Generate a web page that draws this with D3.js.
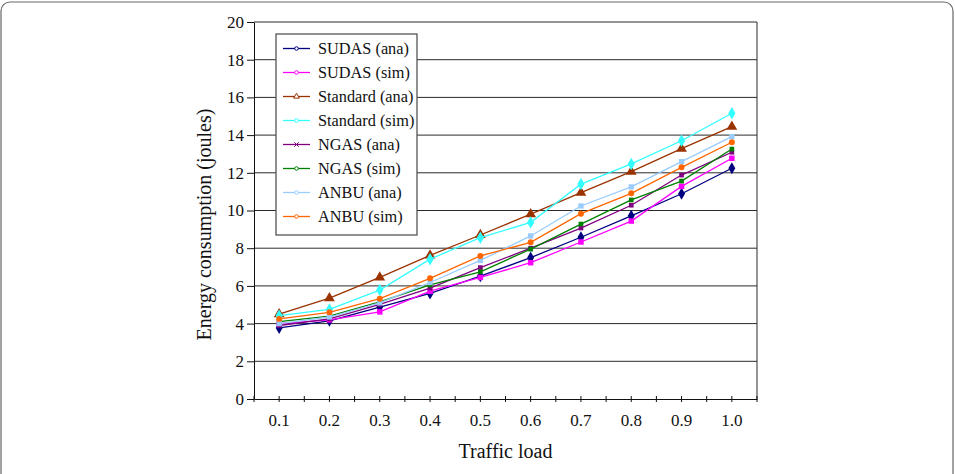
<!DOCTYPE html>
<html>
<head>
<meta charset="utf-8">
<script src="https://cdn.jsdelivr.net/npm/d3@7"></script>
<style>
  body { margin: 0; background: #fff; }
  svg text { font-family: "Liberation Serif", "Times New Roman", "DejaVu Serif", serif !important; }
</style>
</head>
<body>
<div id="chart"></div>
<script>
// values
const categories = ["0.1", "0.2", "0.3", "0.4", "0.5", "0.6", "0.7", "0.8", "0.9", "1.0"];
const yTicks = [0, 2, 4, 6, 8, 10, 12, 14, 16, 18, 20];

const sudasAna    = [3.77, 4.15, 4.88, 5.60, 6.52, 7.50, 8.58, 9.72, 10.89, 12.24];
const sudasSim    = [4.00, 4.20, 4.62, 5.72, 6.45, 7.23, 8.33, 9.44, 11.28, 12.77];
const standardAna = [4.50, 5.35, 6.45, 7.62, 8.70, 9.81, 10.95, 12.06, 13.28, 14.45];
const standardSim = [4.42, 4.75, 5.78, 7.42, 8.56, 9.37, 11.40, 12.47, 13.70, 15.16];
const ngasAna     = [3.90, 4.25, 5.02, 5.88, 6.97, 8.00, 9.07, 10.28, 11.88, 13.09];
const ngasSim     = [4.10, 4.40, 5.15, 6.05, 6.75, 7.95, 9.28, 10.56, 11.56, 13.26];
const anbuAna     = [4.00, 4.35, 5.10, 6.18, 7.35, 8.65, 10.24, 11.25, 12.59, 13.92];
const anbuSim     = [4.25, 4.60, 5.32, 6.40, 7.59, 8.31, 9.83, 10.91, 12.29, 13.62];

const seriesNames = ["SUDAS (ana)", "SUDAS (sim)", "Standard (ana)", "Standard (sim)",
                     "NGAS (ana)", "NGAS (sim)", "ANBU (ana)", "ANBU (sim)"];
const seriesValues = [sudasAna, sudasSim, standardAna, standardSim, ngasAna, ngasSim, anbuAna, anbuSim];

// styles for each series
const colors = ["#000080", "#ff00ff", "#993300", "#33ffff", "#800080", "#008000", "#99ccff", "#ff6600"];
const symbols = [d3.symbolDiamond, d3.symbolSquare, d3.symbolTriangle, d3.symbolDiamond,
                 d3.symbolSquare, d3.symbolSquare, d3.symbolSquare, d3.symbolCircle];
const symbolSizes = [42, 30, 50, 45, 22, 22, 28, 28];

const series = seriesNames.map((name, i) => ({
    name: name,
    color: colors[i],
    symbol: symbols[i],
    size: symbolSizes[i],
    values: seriesValues[i].map((v, j) => ({ cat: categories[j], v: v }))
}));

const width = 955,
      height = 474,
      margin = ({ top: 22, right: 198, bottom: 75, left: 254 });

let svg = d3.select("#chart")
    .append("svg")
    .attr("width", width)
    .attr("height", height);

// outer rounded frame
svg.append("rect")
    .attr("x", 1).attr("y", 2)
    .attr("width", 952).attr("height", 600)
    .attr("rx", 9)
    .attr("fill", "none")
    .attr("stroke", "#666")
    .attr("stroke-width", 1.2);

let x = d3.scaleBand()
    .domain(categories)
    .range([margin.left, width - margin.right])
    .padding(0);

let y = d3.scaleLinear()
    .domain([0, 20])
    .range([height - margin.bottom, margin.top]);

// gridlines
svg.append("g")
    .selectAll("line")
    .data(yTicks.filter(t => t > 0))
    .join("line")
    .attr("x1", margin.left)
    .attr("x2", width - margin.right)
    .attr("y1", d => y(d))
    .attr("y2", d => y(d))
    .attr("stroke", "#2a2a2a")
    .attr("stroke-width", 1);

// right border of the plot
svg.append("line")
    .attr("x1", width - margin.right).attr("x2", width - margin.right)
    .attr("y1", y(20)).attr("y2", y(0))
    .attr("stroke", "#2a2a2a");

// y axis
let yAxis = svg.append("g")
    .attr("transform", `translate(${margin.left},0)`)
    .call(d3.axisLeft(y).tickValues(yTicks).tickSize(7).tickPadding(3).tickSizeOuter(0));
yAxis.selectAll("text").attr("font-size", 17).attr("fill", "#111");
yAxis.select(".domain").attr("stroke", "#111");
yAxis.selectAll(".tick line").attr("stroke", "#111");

// x axis: labels at centres, small ticks every half band
let xAxis = svg.append("g")
    .attr("transform", `translate(0,${y(0)})`)
    .call(d3.axisBottom(x).tickSize(0).tickPadding(15).tickSizeOuter(0));
xAxis.selectAll("text").attr("font-size", 17).attr("fill", "#111");
xAxis.select(".domain").attr("stroke", "#111");

const halfTicks = d3.range(categories.length * 2 + 1).map(i => margin.left + i * x.bandwidth() / 2);
xAxis.selectAll(".htick")
    .data(halfTicks)
    .join("line")
    .attr("class", "htick")
    .attr("x1", d => d).attr("x2", d => d)
    .attr("y1", -3).attr("y2", 3)
    .attr("stroke", "#111");

// axis titles
svg.append("text")
    .attr("x", (margin.left + width - margin.right) / 2)
    .attr("y", 458)
    .attr("text-anchor", "middle")
    .attr("font-size", 20)
    .attr("fill", "#111")
    .text("Traffic load");

svg.append("text")
    .attr("transform", `translate(211,${(y(0) + y(20)) / 2 + 14}) rotate(-90)`)
    .attr("text-anchor", "middle")
    .attr("font-size", 20)
    .attr("fill", "#111")
    .text("Energy consumption (joules)");

// lines
let line = d3.line()
    .x(d => x(d.cat) + x.bandwidth() / 2)
    .y(d => y(d.v));

let g = svg.selectAll(".series")
    .data(series)
    .join("g")
    .attr("class", "series");

g.append("path")
    .attr("d", d => line(d.values))
    .attr("fill", "none")
    .attr("stroke", d => d.color)
    .attr("stroke-width", 1.3);

g.selectAll(".pt")
    .data(d => d.values.map(p => ({ p: p, s: d })))
    .join("path")
    .attr("class", "pt")
    .attr("transform", d => `translate(${x(d.p.cat) + x.bandwidth() / 2},${y(d.p.v)})`)
    .attr("d", d => d3.symbol(d.s.symbol, d.s.size)())
    .attr("fill", d => d.s.color);

// legend
const lg = svg.append("g").attr("transform", "translate(276,34)");
lg.append("rect")
    .attr("width", 141).attr("height", 201)
    .attr("fill", "#fff")
    .attr("stroke", "#555")
    .attr("stroke-width", 1.3);

let item = lg.selectAll(".item")
    .data(series)
    .join("g")
    .attr("class", "item")
    .attr("transform", (d, i) => `translate(0,${14.5 + i * 24})`);

item.append("line")
    .attr("x1", 7).attr("x2", 34)
    .attr("stroke", d => d.color)
    .attr("stroke-width", 1.3);

item.append("path")
    .attr("transform", "translate(20.5,0)")
    .attr("d", (d, i) => i === 2 ? d3.symbol(d3.symbolTriangle, 14)()
                       : i === 4 ? d3.symbol(d3.symbolX, 14)()
                       : d3.symbol(d3.symbolCircle, 10)())
    .attr("fill", (d, i) => i === 4 ? d.color : "#fff")
    .attr("stroke", d => d.color)
    .attr("stroke-width", 1);

item.append("text")
    .attr("x", 42)
    .attr("y", 5.5)
    .attr("font-size", 16.3)
    .attr("fill", "#111")
    .text(d => d.name);
</script>
</body>
</html>
